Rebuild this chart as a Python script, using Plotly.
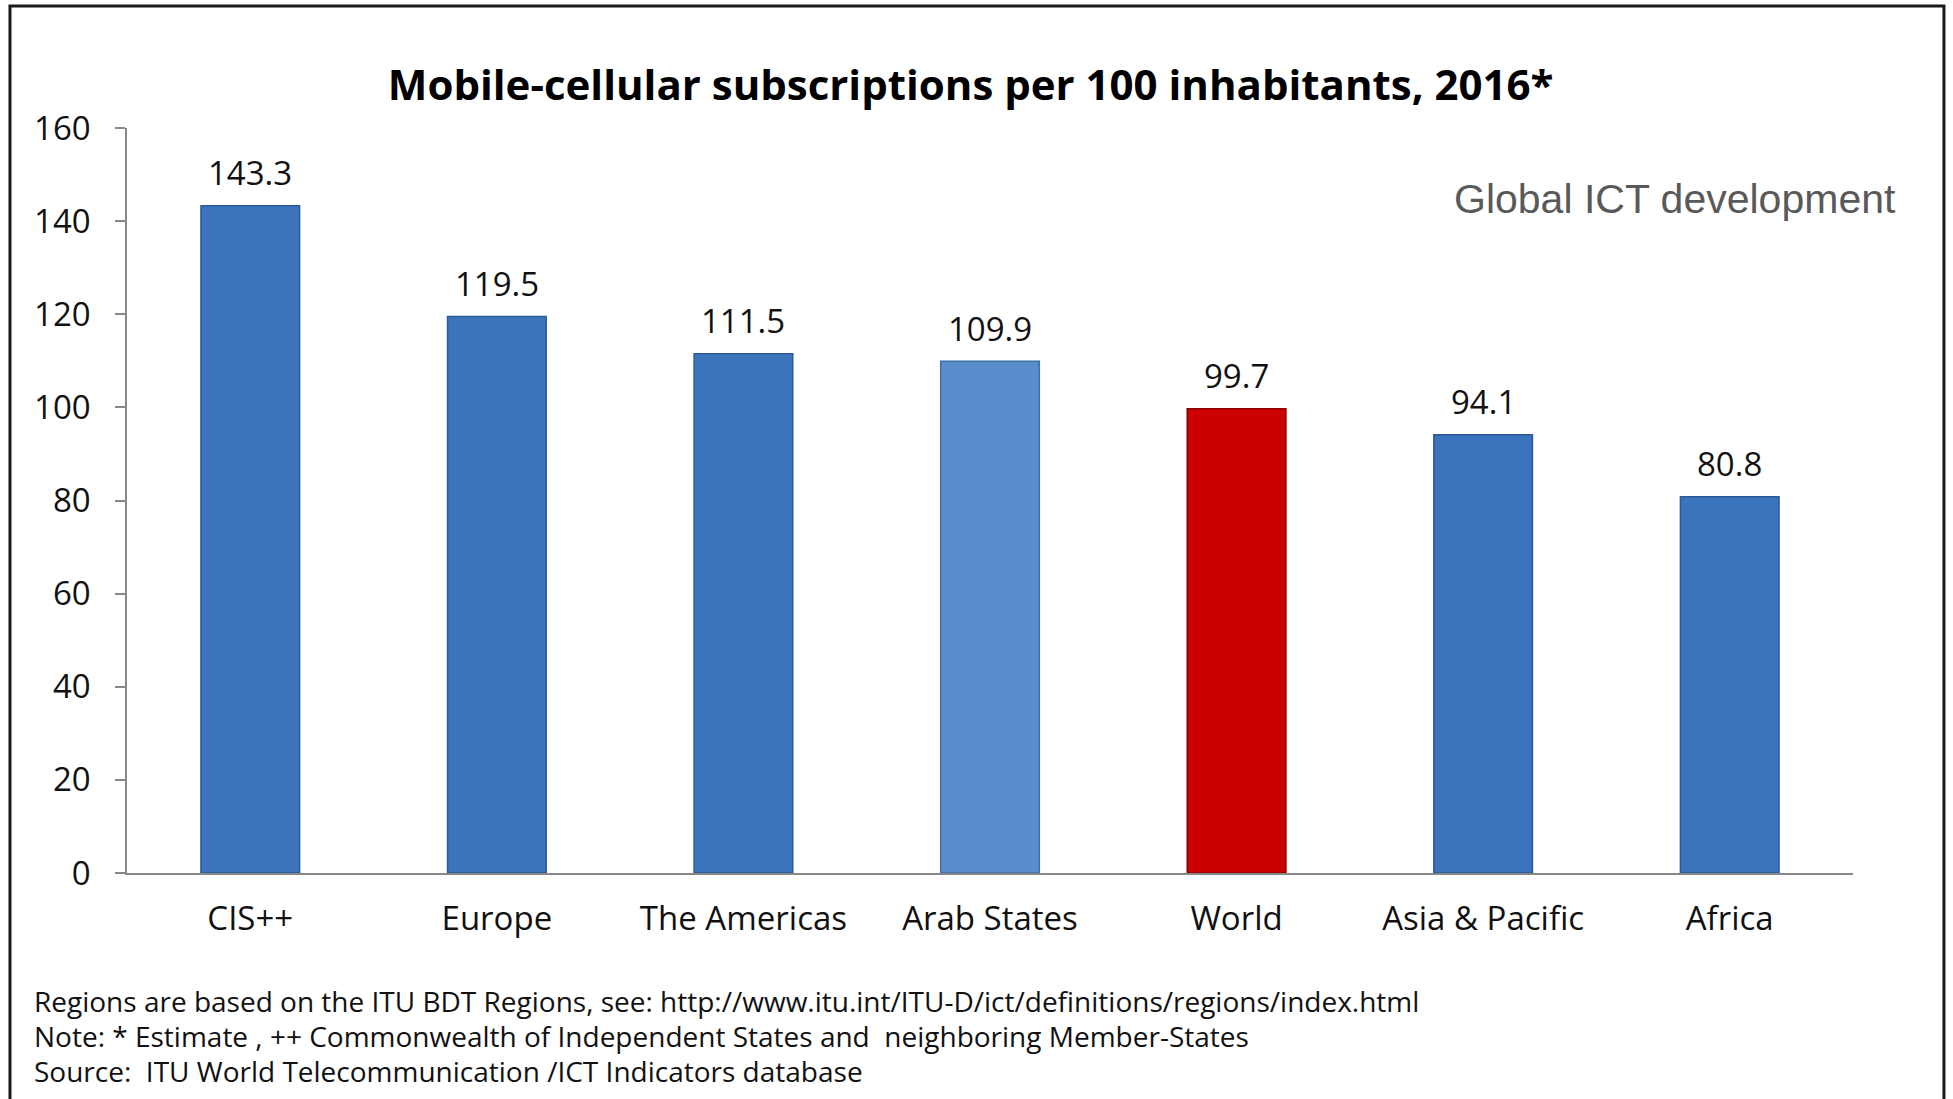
import plotly.graph_objects as go

categories = ["CIS++", "Europe", "The Americas", "Arab States", "World", "Asia & Pacific", "Africa"]
values = [143.3, 119.5, 111.5, 109.9, 99.7, 94.1, 80.8]
value_labels = ["143.3", "119.5", "111.5", "109.9", "99.7", "94.1", "80.8"]
y_ticks = [0, 20, 40, 60, 80, 100, 120, 140, 160]

title_text = "Mobile-cellular subscriptions per 100 inhabitants, 2016*"
subtitle_text = "Global ICT development"
notes = [
    "Regions are based on the ITU BDT Regions, see: http://www.itu.int/ITU-D/ict/definitions/regions/index.html",
    "Note: * Estimate , ++ Commonwealth of Independent States and  neighboring Member-States",
    "Source:  ITU World Telecommunication /ICT Indicators database",
]

blue = "#3b74bd"
light_blue = "#5a8dcc"
red = "#cc0000"
colors = []
edge = []
for c in categories:
    if c == "World":
        colors.append(red)
        edge.append("#8a0000")
    elif c == "Arab States":
        colors.append(light_blue)
        edge.append("#3f6ea8")
    else:
        colors.append(blue)
        edge.append("#2b5a96")

LABEL_FONT = "Open Sans"

fig = go.Figure()
fig.add_trace(go.Bar(
    x=categories, y=values, width=0.4,
    marker=dict(color=colors, line=dict(color=edge, width=1.5)),
    hoverinfo="x+y", showlegend=False,
))

for c, v, t in zip(categories, values, value_labels):
    fig.add_annotation(x=c, y=v, text=t, showarrow=False, yanchor="middle",
                       yshift=33, font=dict(family=LABEL_FONT, size=33, color="#111111"))

fig.add_annotation(xref="paper", yref="paper", x=1.026, y=0.9047, text=subtitle_text,
                   showarrow=False, xanchor="right", yanchor="middle",
                   font=dict(family="Liberation Sans", size=41, color="#595959"))

note_y = [-0.1718, -0.2188, -0.2658]
for t, yy in zip(notes, note_y):
    fig.add_annotation(xref="paper", yref="paper", x=-0.0548, y=yy, text=t,
                       showarrow=False, xanchor="left", yanchor="middle",
                       font=dict(family="Open Sans", size=28, color="#111111"))

# outer frame
fig.add_shape(type="rect", xref="paper", yref="paper", x0=-0.0678, x1=1.0527, y0=-0.32, y1=1.1638,
              line=dict(color="#1a1a1a", width=3), fillcolor="rgba(0,0,0,0)", layer="above")

fig.update_layout(
    width=1953, height=1099,
    margin=dict(l=127, r=100, t=128, b=226),
    paper_bgcolor="white", plot_bgcolor="white",
    title=dict(text="<b>" + title_text + "</b>", x=0.497, xanchor="center", y=0.9227, yanchor="middle",
               font=dict(family="Open Sans", size=42, color="#000000")),
    bargap=0.6,
    xaxis=dict(range=[-0.5, 6.5], showline=True, linecolor="#888888", linewidth=1.5,
               ticks="", showgrid=False, zeroline=False,
               tickfont=dict(family=LABEL_FONT, size=33, color="#111111"), ticklabelstandoff=16),
    yaxis=dict(range=[0, 160], tickvals=y_ticks, showline=True, linecolor="#888888", linewidth=1.5,
               ticks="outside", ticklen=10, tickcolor="#888888", tickwidth=1.5, showgrid=False, zeroline=False,
               tickfont=dict(family=LABEL_FONT, size=33, color="#111111"), ticklabelstandoff=18),
)

fig.write_html("out.html")
